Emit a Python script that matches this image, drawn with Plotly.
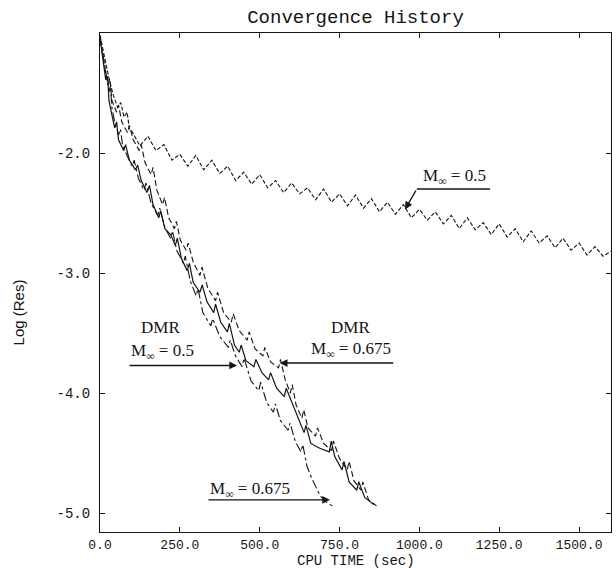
import plotly.graph_objects as go

# ---- data (CPU time in sec, log residual) ----
t_m05 = [0, 10, 20, 30, 42, 55, 65, 75, 85, 92,
         100, 125, 150, 175, 200, 225, 250, 275, 300, 325,
         350, 375, 400, 425, 450, 475, 500, 525, 550, 575,
         600, 625, 650, 675, 700, 725, 750, 775, 800, 825,
         850, 875, 900, 925, 950, 975, 1000, 1025, 1050, 1075,
         1100, 1125, 1150, 1175, 1200, 1225, 1250, 1275, 1300, 1325,
         1350, 1375, 1400, 1425, 1450, 1475, 1500, 1525, 1550, 1575, 1600]
v_m05 = [-1.02, -1.15, -1.28, -1.40, -1.52, -1.62, -1.58, -1.70, -1.66, -1.80,
         -1.82, -1.94, -1.86, -1.98, -1.93, -2.06, -2.01, -2.11, -2.02, -2.14,
         -2.06, -2.17, -2.11, -2.23, -2.16, -2.26, -2.18, -2.29, -2.23, -2.33,
         -2.25, -2.34, -2.29, -2.39, -2.30, -2.41, -2.34, -2.44, -2.35, -2.46,
         -2.38, -2.49, -2.41, -2.51, -2.43, -2.54, -2.47, -2.56, -2.49, -2.59,
         -2.52, -2.63, -2.54, -2.64, -2.58, -2.68, -2.59, -2.70, -2.63, -2.74,
         -2.65, -2.75, -2.69, -2.79, -2.71, -2.81, -2.75, -2.85, -2.78, -2.86, -2.82]

t_dmr05 = [0, 9, 18, 24, 28, 37, 46, 52, 58, 74, 80, 92, 111, 118, 129, 147, 155, 166,
           184, 190, 203, 221, 236, 242, 255, 273, 280, 292, 313, 320, 335, 356, 362,
           378, 399, 405, 421, 436, 442, 457, 482, 488, 507, 528, 534, 553, 577, 583,
           602, 620, 639, 645, 660, 688, 718, 724, 735, 758, 764, 780, 804, 810, 829, 857]
v_dmr05 = [-1.04, -1.23, -1.39, -1.36, -1.56, -1.68, -1.79, -1.74, -1.89, -1.98, -1.93, -2.06,
           -2.14, -2.10, -2.23, -2.33, -2.27, -2.43, -2.54, -2.48, -2.63, -2.68, -2.77, -2.71,
           -2.88, -2.98, -2.92, -3.08, -3.16, -3.10, -3.24, -3.33, -3.26, -3.41, -3.49, -3.42,
           -3.60, -3.66, -3.60, -3.73, -3.78, -3.72, -3.83, -3.89, -3.83, -3.96, -4.03, -3.96,
           -4.09, -4.20, -4.33, -4.27, -4.42, -4.46, -4.49, -4.40, -4.53, -4.64, -4.57, -4.74,
           -4.81, -4.74, -4.87, -4.93]

t_dmr0675 = [0, 12, 25, 31, 37, 52, 58, 68, 86, 92, 104, 123, 129, 141, 160, 166, 178,
             196, 202, 215, 233, 239, 252, 270, 276, 292, 313, 319, 338, 362, 368, 387,
             411, 417, 436, 461, 467, 485, 510, 516, 534, 559, 565, 580, 596, 602, 614,
             632, 638, 651, 675, 681, 700, 725, 731, 749, 774, 780, 795, 817, 823, 841, 866]
v_dmr0675 = [-1.06, -1.23, -1.43, -1.38, -1.56, -1.66, -1.60, -1.74, -1.83, -1.77, -1.89,
             -1.98, -1.93, -2.08, -2.18, -2.12, -2.31, -2.43, -2.37, -2.54, -2.63, -2.57,
             -2.73, -2.81, -2.75, -2.91, -3.02, -2.95, -3.13, -3.23, -3.16, -3.33, -3.41,
             -3.34, -3.48, -3.56, -3.49, -3.63, -3.69, -3.62, -3.74, -3.79, -3.72, -3.89,
             -4.00, -3.93, -4.10, -4.21, -4.14, -4.29, -4.36, -4.29, -4.42, -4.48, -4.40,
             -4.54, -4.64, -4.57, -4.73, -4.81, -4.74, -4.89, -4.94]

t_m0675 = [0, 9, 18, 28, 33, 37, 46, 58, 64, 71, 86, 101, 107, 120, 138, 144, 160, 181,
           187, 203, 221, 227, 240, 261, 267, 283, 301, 307, 322, 347, 353, 375, 402, 408,
           424, 445, 451, 473, 497, 503, 522, 543, 549, 565, 589, 595, 611, 629, 635, 648,
           663, 675, 690, 705, 720, 734]
v_m0675 = [-1.02, -1.18, -1.35, -1.49, -1.44, -1.62, -1.74, -1.85, -1.80, -1.94, -2.03,
           -2.11, -2.06, -2.21, -2.31, -2.25, -2.42, -2.52, -2.46, -2.62, -2.71, -2.65,
           -2.81, -2.92, -2.86, -3.07, -3.19, -3.13, -3.33, -3.44, -3.38, -3.53, -3.62,
           -3.56, -3.69, -3.78, -3.71, -3.90, -3.98, -3.91, -4.08, -4.16, -4.09, -4.23,
           -4.31, -4.25, -4.40, -4.49, -4.43, -4.61, -4.71, -4.78, -4.86, -4.90, -4.93, -4.95]

x_tickvals = [0, 250, 500, 750, 1000, 1250, 1500]
x_ticktext = ["0.0", "250.0", "500.0", "750.0", "1000.0", "1250.0", "1500.0"]
y_tickvals = [-2, -3, -4, -5]
y_ticktext = ["-2.0", "-3.0", "-4.0", "-5.0"]

INK = "#141414"
MONO = "Liberation Mono, Courier New, monospace"
SERIF = "Liberation Serif, Times New Roman, serif"

fig = go.Figure()
fig.add_trace(go.Scatter(x=t_m05, y=v_m05, mode="lines",
                         line=dict(color=INK, width=1.1, dash="4px,2px")))
fig.add_trace(go.Scatter(x=t_m0675, y=v_m0675, mode="lines",
                         line=dict(color=INK, width=1.1, dash="dashdot")))
fig.add_trace(go.Scatter(x=t_dmr05, y=v_dmr05, mode="lines",
                         line=dict(color=INK, width=1.2)))
fig.add_trace(go.Scatter(x=t_dmr0675, y=v_dmr0675, mode="lines",
                         line=dict(color=INK, width=1.1, dash="6px,3px")))

ann = []
def label(x, y, text, size=17):
    ann.append(dict(x=x, y=y, xref="x", yref="y", text=text, showarrow=False,
                    font=dict(family=SERIF, size=size, color=INK),
                    xanchor="center", yanchor="middle"))

def arrow(x0, y0, x1, y1, head=2):
    ann.append(dict(x=x1, y=y1, ax=x0, ay=y0, xref="x", yref="y", axref="x", ayref="y",
                    text="", showarrow=True, arrowhead=head, arrowsize=1.1,
                    arrowwidth=1.4, arrowcolor=INK))

M = "M<sub>\u221e</sub>"
# top right label
label(1111, -2.20, M + " = 0.5")
arrow(992, -2.30, 955, -2.47)
# DMR left
label(188, -3.45, "DMR")
label(197, -3.66, M + " = 0.5")
arrow(88, -3.77, 429, -3.77)
# DMR right
label(783, -3.45, "DMR")
label(786, -3.64, M + " = 0.675")
arrow(923, -3.75, 563, -3.75)
# bottom label
label(470, -4.81, M + " = 0.675")
arrow(335, -4.89, 720, -4.89)

# axis titles
ann.append(dict(x=0.5, y=0, xref="paper", yref="paper", yshift=-29, showarrow=False,
                text="CPU TIME (sec)", font=dict(family=MONO, size=14, color=INK),
                xanchor="center", yanchor="middle"))
ann.append(dict(x=0, y=0.44, xref="paper", yref="paper", xshift=-82, showarrow=False,
                text="Log (Res)", textangle=-90,
                font=dict(family="Liberation Sans, Arial, sans-serif", size=15, color=INK),
                xanchor="center", yanchor="middle"))

fig.update_layout(
    width=616, height=568,
    margin=dict(l=100, r=5, t=33, b=36),
    paper_bgcolor="white", plot_bgcolor="white",
    showlegend=False,
    title=dict(text="Convergence History", x=0.5, xref="paper", xanchor="center",
               y=1 - 16 / 568, yref="container", yanchor="middle",
               font=dict(family=MONO, size=19, color=INK)),
    annotations=ann,
    shapes=[dict(type="line", xref="x", yref="y", x0=992, x1=1221, y0=-2.30, y1=-2.30,
                 line=dict(color=INK, width=1.3))],
)
fig.update_xaxes(range=[0, 1600], tickvals=x_tickvals, ticktext=x_ticktext,
                 ticks="inside", ticklen=5, tickcolor=INK, showline=True, linecolor=INK,
                 linewidth=1.2, mirror="allticks", showgrid=False, zeroline=False,
                 ticklabelstandoff=0,
                 tickfont=dict(family=MONO, size=13, color=INK))
fig.update_yaxes(range=[-5.158, -1.0], tickvals=y_tickvals, ticktext=y_ticktext,
                 ticks="inside", ticklen=5, tickcolor=INK, showline=True, linecolor=INK,
                 linewidth=1.2, mirror="allticks", showgrid=False, zeroline=False,
                 ticklabelstandoff=6,
                 tickfont=dict(family=MONO, size=14, color=INK))

fig.write_html("out.html")
